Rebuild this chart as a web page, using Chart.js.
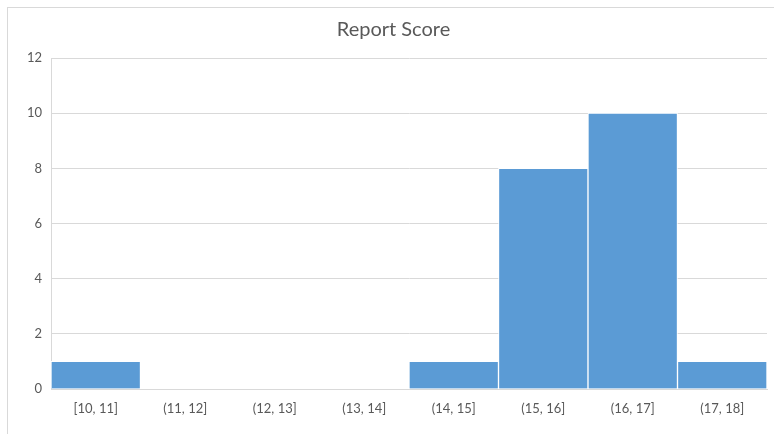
<!DOCTYPE html>
<html>
<head>
<meta charset="utf-8">
<script src="https://cdn.jsdelivr.net/npm/chart.js@4/dist/chart.umd.min.js"></script>
<style>
  html, body { margin: 0; padding: 0; background: #fff; }
  #wrap { width: 774px; height: 434px; position: relative; }
</style>
</head>
<body>
<div id="wrap"><canvas id="histChart" width="774" height="434"></canvas></div>
<script>
// Bins and counts
const binLabels = ['[10, 11]', '(11, 12]', '(12, 13]', '(13, 14]', '(14, 15]', '(15, 16]', '(16, 17]', '(17, 18]'];
const binCounts = [1, 0, 0, 0, 1, 8, 10, 1];
const yTicks = [0, 2, 4, 6, 8, 10, 12];

const textColor = '#595959';
const lineColor = '#d9d9d9';
const fontFamily = 'Lato, "Open Sans", sans-serif';

// Light frame around the whole chart, like the Excel chart area
const framePlugin = {
    id: 'frame',
    beforeDraw(chart) {
        const ctx = chart.ctx;
        ctx.save();
        ctx.fillStyle = '#fff';
        ctx.fillRect(0, 0, chart.width, chart.height);
        ctx.strokeStyle = lineColor;
        ctx.lineWidth = 1;
        ctx.strokeRect(7.5, 7.5, chart.width, chart.height);
        ctx.restore();
    }
};

const ctx = document.getElementById('histChart').getContext('2d');
new Chart(ctx, {
    type: 'bar',
    data: {
        labels: binLabels,
        datasets: [{
            label: 'Report Score',
            data: binCounts,
            backgroundColor: '#5b9bd5',
            borderColor: '#ffffff',
            borderWidth: 1,
            categoryPercentage: 1.0,
            barPercentage: 1.0
        }]
    },
    options: {
        responsive: false,
        animation: false,
        layout: { padding: { left: 20, right: 7, top: 0, bottom: 0 } },
        plugins: {
            legend: { display: false },
            tooltip: { enabled: false },
            title: {
                display: true,
                text: 'Report Score',
                color: textColor,
                font: { family: fontFamily, size: 20, weight: 'normal' },
                padding: { top: 18, bottom: 16 }
            }
        },
        scales: {
            x: {
                grid: { display: false, drawTicks: false },
                border: { display: true, color: lineColor, width: 1 },
                ticks: {
                    color: textColor,
                    font: { family: fontFamily, size: 13 },
                    padding: 12,
                    maxRotation: 0
                },
                afterFit(scale) { scale.height = 45; }
            },
            y: {
                min: 0,
                max: 12,
                afterBuildTicks(scale) {
                    scale.ticks = yTicks.map(v => ({ value: v }));
                },
                grid: { color: lineColor, drawTicks: false },
                border: { display: true, color: lineColor, width: 1 },
                ticks: {
                    color: textColor,
                    font: { family: fontFamily, size: 13 },
                    padding: 9
                },
                afterFit(scale) { scale.width = 31; }
            }
        }
    },
    plugins: [framePlugin]
});
</script>
</body>
</html>
